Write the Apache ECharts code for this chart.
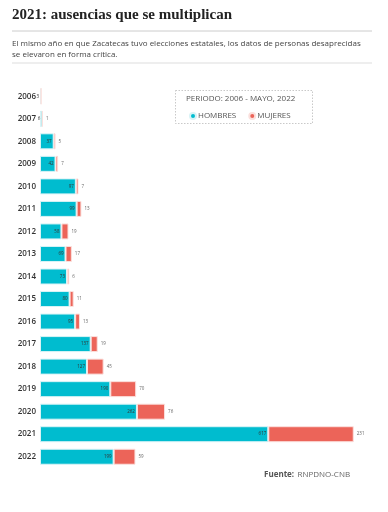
<!DOCTYPE html>
<html><head><meta charset="utf-8">
<script src="https://cdn.jsdelivr.net/npm/echarts@6/dist/echarts.min.js"></script>
<style>html,body{margin:0;padding:0;background:#fff}#c{width:388px;height:512px}</style>
</head><body><div id="c"></div>
<script>
const years = ['2006','2007','2008','2009','2010','2011','2012','2013','2014','2015','2016','2017','2018','2019','2020','2021','2022'];
const hombres = [3,6,37,42,97,99,58,69,73,80,95,137,127,190,262,617,199];
const mujeres = [0,1,5,7,7,13,19,17,6,11,13,19,45,70,76,231,59];
const titleText = '2021: ausencias que se multiplican';
const subText = 'El mismo año en que Zacatecas tuvo elecciones estatales, los datos de personas desaprecidas\nse elevaron en forma crítica.';
const periodText = 'PERIODO: 2006 - MAYO, 2022';

const chart = echarts.init(document.getElementById('c'), null, {renderer:'canvas'});
chart.setOption({
  animation:false,
  backgroundColor:'#fff',
  grid:{left:40, right:15, top:85, bottom:44, containLabel:false},
  xAxis:{type:'value', min:0, max:900, show:false},
  yAxis:{type:'category', data:years, inverse:true,
    axisLine:{show:false}, axisTick:{show:false},
    axisLabel:{color:'#333', fontFamily:'Open Sans', fontSize:8, fontWeight:600, margin:4}},
  legend:{left:184, top:107, itemWidth:6, itemHeight:6, itemGap:12, icon:'circle',
    textStyle:{fontFamily:'Open Sans', fontSize:8, color:'#555', padding:[0,0,0,-3]},
    data:['HOMBRES','MUJERES']},
  series:[
    {name:'HOMBRES', type:'bar', stack:'a', data:hombres, barWidth:16,
     itemStyle:{color:'#00bccf', borderColor:'#d8f3f6', borderWidth:1},
     label:{show:true, position:'insideRight', distance:2, fontSize:4.5, color:'#333', fontFamily:'Open Sans'}},
    {name:'MUJERES', type:'bar', stack:'a', data:mujeres, barWidth:16,
     itemStyle:{color:'#ec6459', borderColor:'#fbe0dd', borderWidth:1},
     label:{show:true, position:'right', distance:3, fontSize:4.5, color:'#666', fontFamily:'Open Sans',
       formatter:p=>p.value>0?p.value:''}}
  ],
  graphic:[
    {type:'text', left:12, top:8, style:{text:titleText, font:'bold 15px "Liberation Serif"', fill:'#222'}},
    {type:'line', shape:{x1:12,y1:31,x2:372,y2:31}, style:{stroke:'#ccc', lineWidth:1}},
    {type:'text', left:12, top:38, style:{text:subText, font:'8px "Open Sans"', fill:'#444', lineHeight:11}},
    {type:'line', shape:{x1:12,y1:63,x2:372,y2:63}, style:{stroke:'#ddd', lineWidth:1}},
    {type:'rect', shape:{x:175.5,y:90.5,width:137,height:33}, style:{fill:'none', stroke:'#bbb', lineWidth:0.8, lineDash:[1.5,1.5]}},
    {type:'text', left:186, top:95, style:{text:periodText, font:'8px "Open Sans"', fill:'#555'}},
    {type:'text', left:264, top:469, style:{rich:{b:{font:'bold 8px "Open Sans"', fill:'#555'}, n:{font:'8px "Open Sans"', fill:'#666'}}, text:'{b|Fuente:} {n|RNPDNO-CNB}'}}
  ]
});
</script></body></html>
